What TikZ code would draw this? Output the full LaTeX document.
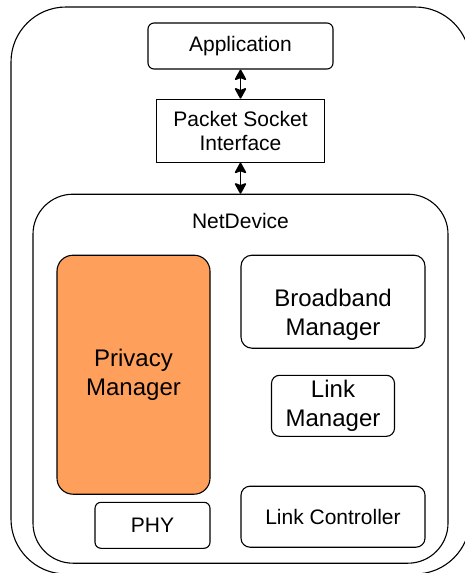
\documentclass[tikz,border=0pt]{standalone}
\usepackage{fontspec}
\setmainfont{Liberation Sans}
\usepackage{xcolor}
\usepackage{tikz}
\usetikzlibrary{shapes, arrows.meta, positioning}

\definecolor{privorange}{HTML}{FF9F5C}

\begin{document}
\begin{tikzpicture}[
    x=1pt, y=-1pt, line width=1.1pt,
    box/.style={rectangle, draw, inner sep=0pt, align=center, font=\fontsize{21}{24}\selectfont},
    rbox/.style={box, rounded corners=6pt},
    bigbox/.style={rbox, rounded corners=11pt, font=\fontsize{24}{29}\selectfont},
    link/.style={{Stealth[length=12pt, width=13pt, inset=2.5pt, round]}-{Stealth[length=12pt, width=13pt, inset=2.5pt, round]}, line width=1.6pt}
    ]
    \useasboundingbox (0,0) rectangle (465,573);
    \clip (0,0) rectangle (465,573);

    % Host frame
    \node (host) [box, rounded corners=55pt, minimum width=459pt, minimum height=567pt] at (240.5,290.5) {};

    % Upper stack
    \node (app) [rbox, minimum width=185pt, minimum height=46pt] at (240.5,46) {Application};
    \node (socket) [box, minimum width=168pt, minimum height=63pt, below=29pt of app] {Packet Socket\\Interface};
    \node (net) [box, rounded corners=40pt, minimum width=415pt, minimum height=369pt, below=31pt of socket,
        label={[anchor=north, inner sep=0pt, yshift=-19pt, font=\fontsize{21}{24}\selectfont]north:NetDevice}] {};

    % NetDevice parts
    \node (privacy) [bigbox, rounded corners=16pt, fill=privorange, minimum width=153pt, minimum height=239pt,
        below right=61pt and 24pt of net.north west] {Privacy\\Manager};
    \node (phy) [rbox, minimum width=115pt, minimum height=46pt, below=7pt of privacy.south east, anchor=north east] {PHY};
    \node (broadband) [bigbox, minimum width=184pt, minimum height=93pt, below left=61pt and 23pt of net.north east,
        label={[align=center, yshift=-13pt, font=\fontsize{24}{29}\selectfont]center:Broadband\\Manager}] {};
    \node (lm) [bigbox, rounded corners=8pt, minimum width=123pt, minimum height=61pt, below=26pt of broadband] {Link\\Manager};
    \node (lc) [rbox, rounded corners=9pt, minimum width=184pt, minimum height=61pt, above left=16pt and 23pt of net.south east] {Link Controller};

    % Arrows
    \draw[link] (app) -- (socket);
    \draw[link] (socket) -- (net);
\end{tikzpicture}
\end{document}
